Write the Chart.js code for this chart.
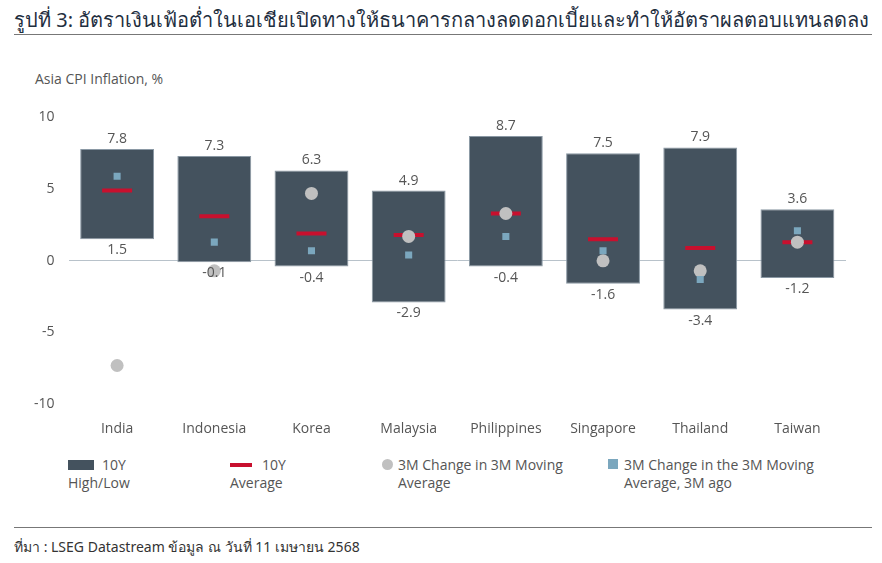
<!DOCTYPE html>
<html><head><meta charset="utf-8">
<script src="https://cdn.jsdelivr.net/npm/chart.js@4"></script>
<style>
body{margin:0;width:882px;height:563px;background:#fff;font-family:"Open Sans","Noto Sans",sans-serif;position:relative;overflow:hidden}
#title{position:absolute;left:14px;top:4px;font-size:20px;color:#1f2f3f;font-family:"Noto Sans","Liberation Sans",sans-serif}
#rule1{position:absolute;left:14px;top:34px;width:858px;height:1px;background:#777}
#rule2{position:absolute;left:14px;top:527px;width:858px;height:1px;background:#777}
#src{position:absolute;left:14px;top:536px;font-size:14px;color:#333;font-family:"Noto Sans",sans-serif}
#ytitle{position:absolute;left:35px;top:69px;font-size:14px;color:#555}
#wrap{position:absolute;left:0;top:95px;width:882px;height:350px}
#legend{position:absolute;top:456px;left:68px;font-size:14px;color:#555}
.li{position:absolute;top:0;line-height:18px}
.sw{position:absolute;top:4px}
</style></head><body>
<div id="title">รูปที่ 3: อัตราเงินเฟ้อต่ำในเอเชียเปิดทางให้ธนาคารกลางลดดอกเบี้ยและทำให้อัตราผลตอบแทนลดลง</div>
<div id="rule1"></div>
<div id="ytitle">Asia CPI Inflation, %</div>
<div id="wrap"><canvas id="c"></canvas></div>
<div id="legend">
 <div class="li" style="left:0"><span class="sw" style="left:0;width:26px;height:10px;background:#44525e"></span><span style="margin-left:34px">10Y High/Low</span></div>
 <div class="li" style="left:162px"><span class="sw" style="left:0;top:7px;width:22px;height:4px;background:#c8102e"></span><span style="margin-left:32px">10Y Average</span></div>
 <div class="li" style="left:314px;width:200px"><span class="sw" style="left:0;top:3px;width:11px;height:11px;border-radius:50%;background:#c0c0c0"></span><div style="margin-left:16px">3M Change in 3M Moving<br>Average</div></div>
 <div class="li" style="left:540px;width:260px"><span class="sw" style="left:0;top:3px;width:10px;height:10px;background:#7ba7be"></span><div style="margin-left:16px">3M Change in the 3M Moving<br>Average, 3M ago</div></div>
</div>
<div id="rule2"></div>
<div id="src">ที่มา : LSEG Datastream ข้อมูล ณ วันที่ 11 เมษายน 2568</div>
<script>
const categories=["India","Indonesia","Korea","Malaysia","Philippines","Singapore","Thailand","Taiwan"];
const high=[7.8,7.3,6.3,4.9,8.7,7.5,7.9,3.6];
const low=[1.5,-0.1,-0.4,-2.9,-0.4,-1.6,-3.4,-1.2];
const avg10y=[4.9,3.1,1.9,1.8,3.3,1.5,0.9,1.3];
const chg3m=[-7.3,-0.7,4.7,1.7,3.3,0.0,-0.7,1.3];
const chg3mAgo=[5.9,1.3,0.7,0.4,1.7,0.7,-1.3,2.1];
const yTicks=[-10,-5,0,5,10];

const labelPlugin={id:'lbl',afterDatasetsDraw(ch){
 const ctx=ch.ctx,meta=ch.getDatasetMeta(0),y=ch.scales.y;
 ctx.save();ctx.font='14px "Open Sans"';ctx.fillStyle='#555';ctx.textAlign='center';
 meta.data.forEach((b,i)=>{
  ctx.textBaseline='bottom';ctx.fillText(String(high[i]),b.x,y.getPixelForValue(high[i])-3);
  ctx.textBaseline='top';ctx.fillText(String(low[i]),b.x,y.getPixelForValue(low[i])+4);
 });ctx.restore();}};

new Chart(document.getElementById('c'),{
 data:{labels:categories,datasets:[
  {type:'scatter',data:chg3mAgo.map((v,i)=>({x:categories[i],y:v})),pointStyle:'rect',radius:5,backgroundColor:'#7ba7be',borderWidth:0,order:0},
  {type:'scatter',data:chg3m.map((v,i)=>({x:categories[i],y:v})),pointStyle:'circle',radius:6.5,backgroundColor:'#c0c0c0',borderWidth:0,order:1},
  {type:'scatter',data:avg10y.map((v,i)=>({x:categories[i],y:v})),pointStyle:'line',radius:15,borderColor:'#c8102e',borderWidth:4,order:2},
  {type:'bar',data:high.map((h,i)=>[low[i],h]),backgroundColor:'#44525e',borderColor:'#8a98a4',borderWidth:1,borderSkipped:false,categoryPercentage:1,barPercentage:0.76,order:3}
 ]},
 options:{responsive:true,maintainAspectRatio:false,animation:false,
  layout:{padding:{left:20,right:36,top:5,bottom:0}},
  plugins:{legend:{display:false},tooltip:{enabled:false}},
  scales:{
   x:{type:'category',labels:categories,offset:true,grid:{display:false},border:{display:false},ticks:{color:'#555',font:{size:14,family:'Open Sans'},padding:8}},
   y:{min:-10,max:10,afterBuildTicks(s){s.ticks=yTicks.map(v=>({value:v}));},border:{display:false},
      grid:{color:c=>c.tick.value===0?'#b8c2ca':'transparent',lineWidth:1,drawTicks:false},
      ticks:{color:'#555',font:{size:14,family:'Open Sans'},padding:14}}
  }},
 plugins:[labelPlugin]
});
</script></body></html>
